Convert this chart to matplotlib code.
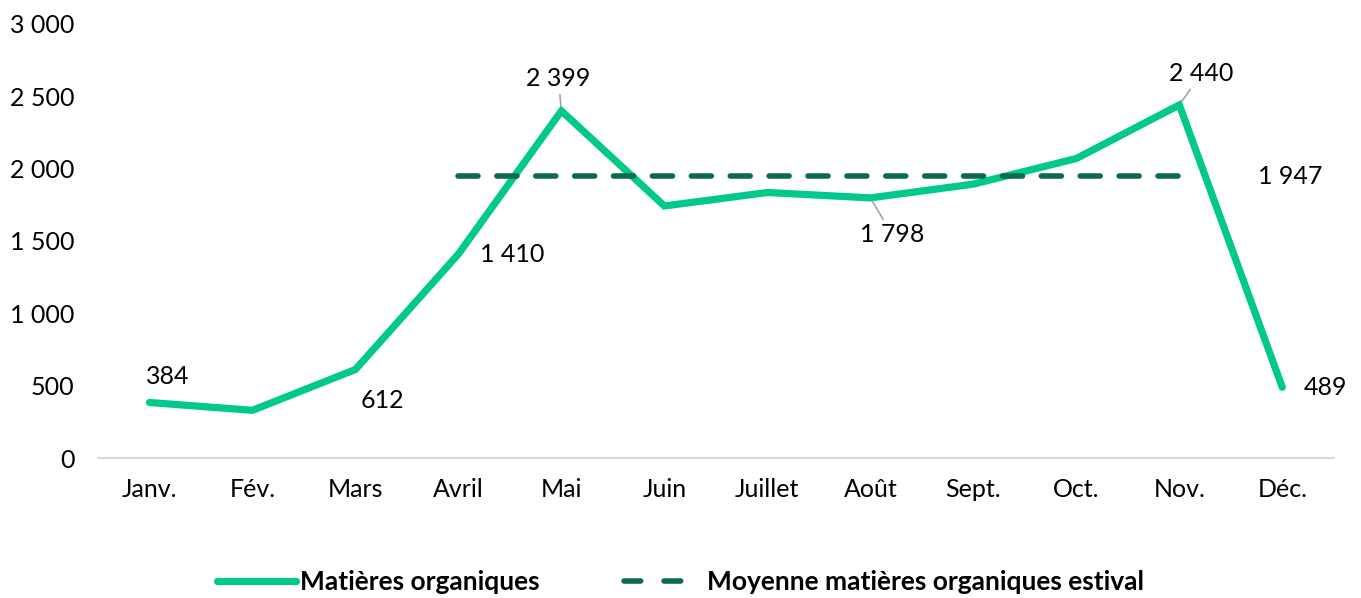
import matplotlib.pyplot as plt
from matplotlib.lines import Line2D

plt.rcParams['font.family'] = ['Lato', 'DejaVu Sans']

# Données
mois = ['Janv.', 'Fév.', 'Mars', 'Avril', 'Mai', 'Juin', 'Juillet', 'Août',
        'Sept.', 'Oct.', 'Nov.', 'Déc.']
matieres = [384, 330, 612, 1410, 2399, 1742, 1835, 1798, 1893, 2070, 2440, 489]
moyenne_estival = 1947
mois_estival = ['Avril', 'Mai', 'Juin', 'Juillet', 'Août', 'Sept.', 'Oct.', 'Nov.']

vert = '#00C98B'
vert_fonce = '#0B6B4B'
taille = 18

fig = plt.figure(figsize=(13.61, 5.98), dpi=100)
ax = fig.add_axes([0.072, 0.234, 0.908, 0.726])

x = list(range(len(mois)))
ax.plot(x, matieres, color=vert, lw=5.2, solid_capstyle='round', solid_joinstyle='miter')
xe = [mois.index(m) for m in mois_estival]
ax.plot(xe, [moyenne_estival] * len(xe), color=vert_fonce, lw=4,
        dashes=(3.6, 3.4), dash_capstyle='round')

ax.set_xlim(-0.5, 11.5)
ax.set_ylim(0, 3000)
ax.set_yticks(range(0, 3001, 500))
ax.set_yticklabels([f'{v:,}'.replace(',', ' ') for v in range(0, 3001, 500)])
ax.set_xticks(x)
ax.set_xticklabels(mois)
ax.tick_params(length=0, labelsize=taille, colors='black')
ax.tick_params(axis='x', pad=14)
ax.tick_params(axis='y', pad=17)
for s in ['top', 'right', 'left']:
    ax.spines[s].set_visible(False)
ax.spines['bottom'].set_color('#d9d9d9')
ax.spines['bottom'].set_linewidth(1.5)


def fmt(v):
    return f'{v:,}'.replace(',', ' ')


# Étiquettes (décalages en pixels)
etiquettes = {0: (18, 26), 2: (27, -31), 3: (54, 0), 4: (-3, 32),
              7: (22, -37), 10: (22, 31), 11: (43, 0)}
fleches = {4, 7, 10}
for i, (dx, dy) in etiquettes.items():
    ap = dict(arrowstyle='-', color='#a6a6a6', lw=1.2, shrinkA=1, shrinkB=3) if i in fleches else None
    ax.annotate(fmt(matieres[i]), (i, matieres[i]), xytext=(dx, dy),
                textcoords='offset pixels', ha='center', va='center',
                fontsize=taille, arrowprops=ap)
ax.annotate(fmt(moyenne_estival), (11, moyenne_estival), xytext=(8, 0),
            textcoords='offset pixels', ha='center', va='center', fontsize=taille)

handles = [Line2D([], [], color=vert, lw=5.2, solid_capstyle='round'),
           Line2D([], [], color=vert_fonce, lw=4, dashes=(3.0, 4.2), dash_capstyle='round')]
fig.legend(handles, ['Matières organiques', 'Moyenne matières organiques estival'],
           loc='center', bbox_to_anchor=(0.5, 0.027), ncol=2, frameon=False,
           prop={'weight': 'bold', 'size': 19}, handlelength=3.0, handletextpad=0.15,
           columnspacing=3.2)

plt.savefig('out.png', dpi=100)
